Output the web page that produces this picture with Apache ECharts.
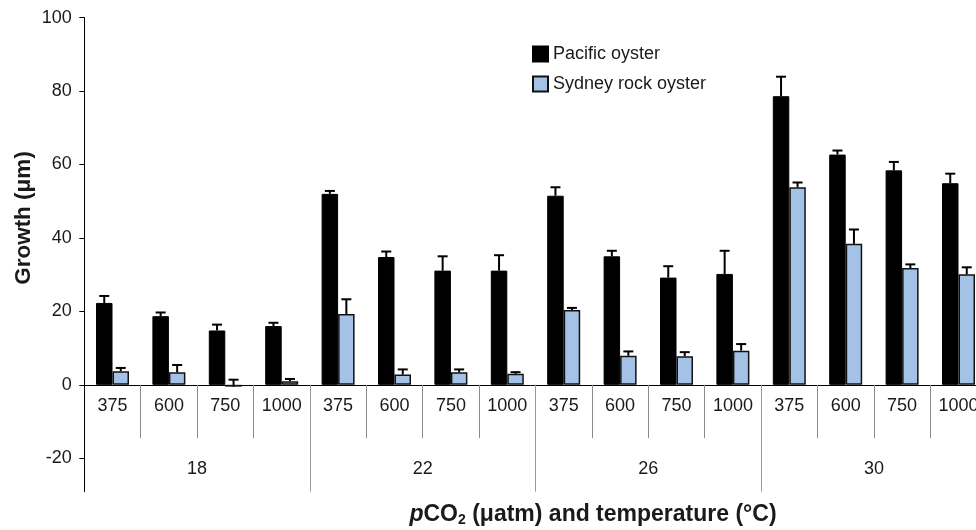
<!DOCTYPE html>
<html>
<head>
<meta charset="utf-8">
<script src="https://cdn.jsdelivr.net/npm/echarts@6/dist/echarts.min.js"></script>
<style>
  html, body { margin: 0; padding: 0; background: #fff; }
  #chart { width: 976px; height: 530px; }
</style>
</head>
<body>
<div id="chart"></div>
<script>
// Temperatures (°C) form the outer level of the category axis,
// pCO2 levels (µatm) the inner level.
const temperatures = ['18', '22', '26', '30'];
const pco2Levels = ['375', '600', '750', '1000'];
const categories = temperatures.flatMap(() => pco2Levels);

// Mean growth (µm) and upper error (SE) per treatment, in category order.
const pacificGrowth = [22.3, 18.7, 14.8, 16.0, 52.0, 34.8, 31.1, 31.1, 51.5, 35.0, 29.2, 30.2, 78.6, 62.7, 58.4, 54.9];
const pacificError  = [1.9, 1.0, 1.6, 0.9, 0.8, 1.5, 3.9, 4.2, 2.3, 1.5, 3.1, 6.3, 5.3, 1.1, 2.3, 2.6];
const sydneyGrowth  = [3.7, 3.4, -0.5, 1.0, 19.3, 2.8, 3.4, 3.0, 20.4, 7.9, 7.8, 9.3, 53.8, 38.4, 31.8, 30.1];
const sydneyError   = [0.9, 2.0, 1.9, 0.6, 4.0, 1.4, 0.8, 0.45, 0.55, 1.2, 1.1, 1.8, 1.3, 3.9, 1.0, 1.9];

// Value axis tick labels.
const yTicks = [-20, 0, 20, 40, 60, 80, 100];

const FONT = "'Liberation Sans', Arial, Helvetica, sans-serif";
const TEXT = '#1a1a1a';
const BAR_W = 16.5;
const CAP = 5;

// Plot frame. The value axis runs a little below its lowest tick so the
// temperature group labels sit inside the framed area.
const Y_FLOOR = -29.1;
const Y_CEIL = 100;
const GRID = { left: 84.3, top: 17.6, width: 902.4, height: 474.1 };
// Distance from the frame bottom up to the zero line, so the pCO2 axis
// (line, dividers and labels) is drawn along y = 0.
const ZERO_LIFT = GRID.height * (0 - Y_FLOOR) / (Y_CEIL - Y_FLOOR);

function errorBars(side) {
  return function (params, api) {
    const idx = api.value(0);
    const val = api.value(1);
    const err = api.value(2);
    const base = api.coord([idx, val]);
    const top = api.coord([idx, val + err]);
    const x = base[0] + side * BAR_W / 2;
    const style = { stroke: '#000', lineWidth: 2 };
    return {
      type: 'group',
      children: [
        { type: 'line', shape: { x1: x, y1: base[1], x2: x, y2: top[1] }, style },
        { type: 'line', shape: { x1: x - CAP, y1: top[1], x2: x + CAP, y2: top[1] }, style }
      ]
    };
  };
}

const chart = echarts.init(document.getElementById('chart'), null, { renderer: 'canvas' });

chart.setOption({
  animation: false,
  backgroundColor: '#fff',
  textStyle: { fontFamily: FONT, color: TEXT },
  grid: Object.assign({ outerBoundsMode: 'none' }, GRID),
  legend: {
    orient: 'vertical',
    left: 527,
    top: 40,
    icon: 'rect',
    itemWidth: 15,
    itemHeight: 15,
    itemGap: 12,
    textStyle: { fontFamily: FONT, fontSize: 18, color: TEXT },
    data: ['Pacific oyster', 'Sydney rock oyster']
  },
  xAxis: [
    {
      type: 'category',
      position: 'bottom',
      offset: -ZERO_LIFT,
      data: categories,
      axisLine: { onZero: false, lineStyle: { color: '#000', width: 1 } },
      axisTick: { show: true, interval: 0, length: 53.4, lineStyle: { color: '#8c8c8c', width: 1 } },
      axisLabel: { interval: 0, margin: 12, fontFamily: FONT, fontSize: 18, color: TEXT },
      splitLine: { show: false }
    },
    {
      type: 'category',
      position: 'bottom',
      data: temperatures,
      axisLine: { show: false, onZero: false },
      axisTick: { show: true, inside: true, interval: 0, length: ZERO_LIFT, lineStyle: { color: '#999', width: 1 } },
      axisLabel: { inside: true, interval: 0, margin: 14, fontFamily: FONT, fontSize: 18, color: TEXT },
      splitLine: { show: false }
    }
  ],
  yAxis: {
    type: 'value',
    min: Y_FLOOR,
    max: Y_CEIL,
    z: 3,
    axisLine: { show: true, lineStyle: { color: '#000', width: 1 } },
    axisTick: { show: true, length: 5, customValues: yTicks, lineStyle: { color: '#000' } },
    axisLabel: { margin: 12.6, customValues: yTicks, fontFamily: FONT, fontSize: 18, color: TEXT },
    splitLine: { show: false }
  },
  graphic: [
    {
      type: 'text',
      x: 24,
      y: 218,
      rotation: Math.PI / 2,
      style: {
        text: 'Growth (μm)',
        fontFamily: FONT,
        fontSize: 22.5,
        fontWeight: 'bold',
        fill: TEXT,
        align: 'center',
        verticalAlign: 'middle'
      }
    },
    {
      type: 'text',
      x: 593,
      y: 515,
      style: {
        text: '{it|p}{b|CO}{sub|2}{b| (μatm) and temperature (°C)}',
        fontFamily: FONT,
        fill: TEXT,
        align: 'center',
        verticalAlign: 'middle',
        rich: {
          it: { fontFamily: FONT, fontSize: 23, fontWeight: 'bold', fontStyle: 'italic', fill: TEXT },
          b: { fontFamily: FONT, fontSize: 23, fontWeight: 'bold', fill: TEXT },
          sub: { fontFamily: FONT, fontSize: 14, fontWeight: 'bold', fill: TEXT, padding: [11, 0, 0, 0] }
        }
      }
    }
  ],
  series: [
    {
      name: 'Pacific oyster',
      type: 'bar',
      xAxisIndex: 0,
      barWidth: BAR_W,
      barGap: '0%',
      itemStyle: { color: '#000', borderColor: '#000', borderWidth: 1 },
      data: pacificGrowth
    },
    {
      name: 'Sydney rock oyster',
      type: 'bar',
      xAxisIndex: 0,
      barWidth: BAR_W,
      barGap: '0%',
      itemStyle: { color: '#a4c2e6', borderColor: '#111', borderWidth: 1.5 },
      data: sydneyGrowth
    },
    {
      name: 'Pacific oyster error',
      type: 'custom',
      xAxisIndex: 0,
      z: 3,
      renderItem: errorBars(-1),
      data: categories.map((c, i) => [i, pacificGrowth[i], pacificError[i]])
    },
    {
      name: 'Sydney rock oyster error',
      type: 'custom',
      xAxisIndex: 0,
      z: 3,
      renderItem: errorBars(1),
      data: categories.map((c, i) => [i, sydneyGrowth[i], sydneyError[i]])
    }
  ]
});
</script>
</body>
</html>
